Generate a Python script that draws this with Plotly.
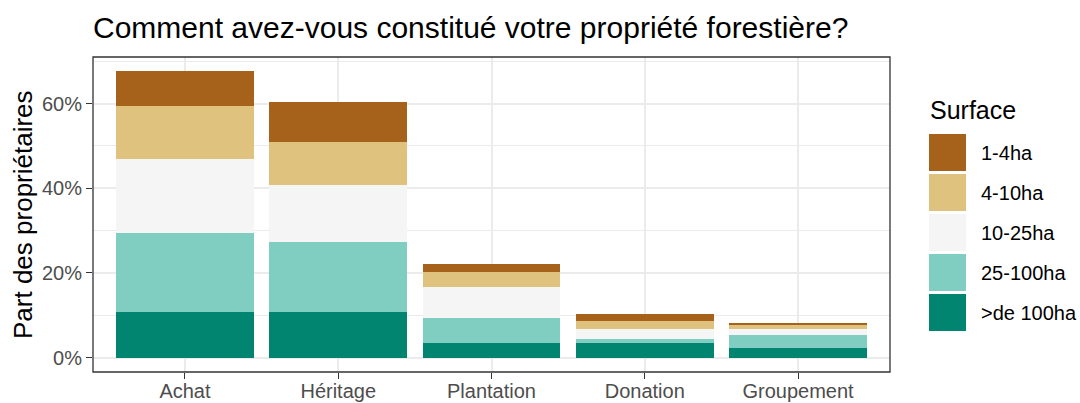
import plotly.graph_objects as go

categories = ["Achat", "Héritage", "Plantation", "Donation", "Groupement"]
surfaces = ["1-4ha", "4-10ha", "10-25ha", "25-100ha", ">de 100ha"]
colors = ["#A6611A", "#DFC27D", "#F5F5F5", "#80CDC1", "#018571"]

# shares (%) per surface class, per category
v_1_4 = [8.2, 9.5, 1.7, 1.8, 0.6]
v_4_10 = [12.6, 10.0, 3.6, 1.9, 0.9]
v_10_25 = [17.4, 13.6, 7.3, 2.2, 1.4]
v_25_100 = [18.5, 16.3, 5.9, 1.0, 3.0]
v_100p = [10.9, 10.9, 3.5, 3.5, 2.3]

values = {"1-4ha": v_1_4, "4-10ha": v_4_10, "10-25ha": v_10_25,
          "25-100ha": v_25_100, ">de 100ha": v_100p}

W, H = 1080, 403
L, R, T, B = 93, 890, 57, 372
pw, ph = R - L, B - T

def px(x):
    return (x - L) / pw

def py(y):
    return (B - y) / ph

fig = go.Figure()
for s, c in zip(reversed(surfaces), reversed(colors)):
    fig.add_trace(go.Bar(x=categories, y=values[s], name=s, marker_color=c,
                         marker_line_width=0, width=0.9, showlegend=False))

totals = [sum(values[s][i] for s in surfaces) for i in range(len(categories))]
ymax = max(totals)
pad = ymax * 0.05

FONT = "Liberation Sans, Arial, sans-serif"

fig.update_layout(
    width=W, height=H,
    margin=dict(l=L, r=W - R, t=T, b=H - B, autoexpand=False),
    barmode="stack",
    plot_bgcolor="white", paper_bgcolor="white",
    font=dict(family=FONT, color="black"),
    title=dict(text="Comment avez-vous constitué votre propriété forestière?",
               x=L / W, xanchor="left", y=1 - 27 / H, yanchor="middle",
               font=dict(size=30, color="black", family=FONT)),
    xaxis=dict(range=[-0.6, 4.6], showgrid=True, gridcolor="#EBEBEB", gridwidth=1.6,
               ticks="outside", ticklen=6, tickcolor="#333333", tickwidth=1.3,
               tickfont=dict(size=20, color="#4D4D4D"), showline=False, zeroline=False,
               automargin=False, ticklabelstandoff=-5),
    yaxis=dict(range=[-pad, ymax + pad], tickvals=[0, 20, 40, 60],
               ticktext=["0%", "20%", "40%", "60%"],
               showgrid=True, gridcolor="#EBEBEB", gridwidth=1.6,
               minor=dict(tickvals=[10, 30, 50, 70], showgrid=True, gridcolor="#EBEBEB",
                          gridwidth=0.8, ticks=""),
               ticks="outside", ticklen=6, tickcolor="#333333", tickwidth=1.3,
               tickfont=dict(size=20, color="#4D4D4D"), zeroline=False, showline=False,
               automargin=False),
)

shapes = [dict(type="rect", xref="paper", yref="paper", x0=0, x1=1, y0=0, y1=1,
               line=dict(color="#333333", width=1.3), fillcolor="rgba(0,0,0,0)", layer="above")]
annotations = [
    dict(text="Part des propriétaires", xref="paper", yref="paper", x=px(23), y=py(215),
         xanchor="center", yanchor="middle", textangle=-90, showarrow=False,
         font=dict(size=26, color="black", family=FONT)),
    dict(text="Surface", xref="paper", yref="paper", x=px(928), y=py(110),
         xanchor="left", yanchor="middle", showarrow=False,
         font=dict(size=25, color="black", family=FONT)),
]
key_top = 134
for i, (s, c) in enumerate(zip(surfaces, colors)):
    y0 = key_top + i * 40
    shapes.append(dict(type="rect", xref="paper", yref="paper",
                       x0=px(929), x1=px(966), y0=py(y0 + 37), y1=py(y0),
                       fillcolor=c, line=dict(width=0)))
    annotations.append(dict(text=s, xref="paper", yref="paper", x=px(979), y=py(y0 + 18.5),
                            xanchor="left", yanchor="middle", showarrow=False,
                            font=dict(size=20, color="black", family=FONT)))
fig.update_layout(shapes=shapes, annotations=annotations)

fig.write_html("out.html", config={"displayModeBar": False},
               post_script="document.body.style.margin='0px';")
